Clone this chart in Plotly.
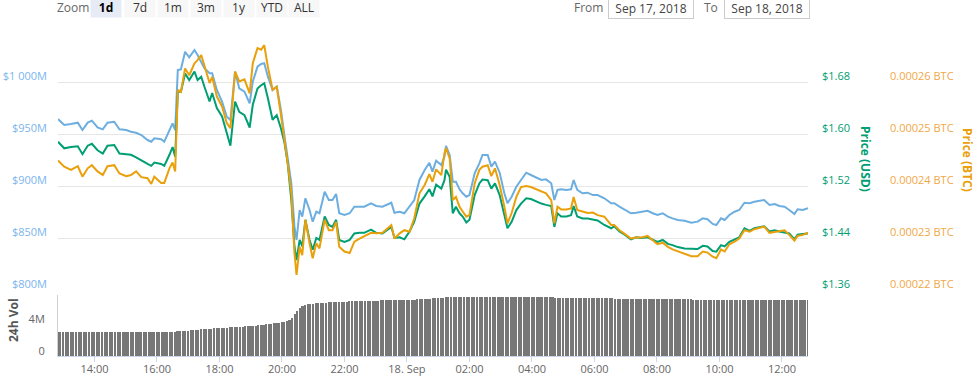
import plotly.graph_objects as go
import pandas as pd

# ---------------- data ----------------
times = [
"2018-09-17 12:50","2018-09-17 13:02","2018-09-17 13:15","2018-09-17 13:28","2018-09-17 13:37","2018-09-17 13:47","2018-09-17 13:55",
"2018-09-17 14:06","2018-09-17 14:16","2018-09-17 14:25","2018-09-17 14:38","2018-09-17 14:48","2018-09-17 15:01","2018-09-17 15:10",
"2018-09-17 15:20","2018-09-17 15:30","2018-09-17 15:42","2018-09-17 15:49","2018-09-17 15:55","2018-09-17 16:08","2018-09-17 16:14",
"2018-09-17 16:24","2018-09-17 16:30","2018-09-17 16:35","2018-09-17 16:40","2018-09-17 16:46","2018-09-17 16:54","2018-09-17 17:02",
"2018-09-17 17:12","2018-09-17 17:18","2018-09-17 17:25","2018-09-17 17:31","2018-09-17 17:41","2018-09-17 17:46","2018-09-17 17:55",
"2018-09-17 18:05","2018-09-17 18:14","2018-09-17 18:21","2018-09-17 18:30","2018-09-17 18:38","2018-09-17 18:48","2018-09-17 18:58",
"2018-09-17 19:04","2018-09-17 19:13","2018-09-17 19:20","2018-09-17 19:26","2018-09-17 19:33","2018-09-17 19:42","2018-09-17 19:50",
"2018-09-17 19:58","2018-09-17 20:05","2018-09-17 20:11","2018-09-17 20:18","2018-09-17 20:24","2018-09-17 20:28","2018-09-17 20:34",
"2018-09-17 20:39","2018-09-17 20:45","2018-09-17 20:53","2018-09-17 20:59","2018-09-17 21:06","2018-09-17 21:12","2018-09-17 21:22",
"2018-09-17 21:30","2018-09-17 21:37","2018-09-17 21:44","2018-09-17 21:50","2018-09-17 22:00","2018-09-17 22:10","2018-09-17 22:19",
"2018-09-17 22:29","2018-09-17 22:38","2018-09-17 22:51","2018-09-17 23:01","2018-09-17 23:13","2018-09-17 23:30","2018-09-17 23:36",
"2018-09-17 23:46","2018-09-17 23:55","2018-09-18 00:05","2018-09-18 00:14","2018-09-18 00:24","2018-09-18 00:34","2018-09-18 00:43",
"2018-09-18 00:49","2018-09-18 00:56","2018-09-18 01:06","2018-09-18 01:12","2018-09-18 01:15","2018-09-18 01:22","2018-09-18 01:28",
"2018-09-18 01:34","2018-09-18 01:41","2018-09-18 01:47","2018-09-18 01:54","2018-09-18 02:00","2018-09-18 02:10","2018-09-18 02:19",
"2018-09-18 02:25","2018-09-18 02:35","2018-09-18 02:42","2018-09-18 02:49","2018-09-18 02:58","2018-09-18 03:07","2018-09-18 03:13",
"2018-09-18 03:21","2018-09-18 03:30","2018-09-18 03:39","2018-09-18 03:49","2018-09-18 03:58","2018-09-18 04:08","2018-09-18 04:18",
"2018-09-18 04:27","2018-09-18 04:37","2018-09-18 04:43","2018-09-18 04:49","2018-09-18 04:56","2018-09-18 05:06","2018-09-18 05:15",
"2018-09-18 05:20","2018-09-18 05:27","2018-09-18 05:37","2018-09-18 05:47","2018-09-18 05:57","2018-09-18 06:06","2018-09-18 06:19",
"2018-09-18 06:32","2018-09-18 06:38","2018-09-18 06:48","2018-09-18 06:58","2018-09-18 07:10","2018-09-18 07:20","2018-09-18 07:30",
"2018-09-18 07:42","2018-09-18 07:52","2018-09-18 08:01","2018-09-18 08:11","2018-09-18 08:21","2018-09-18 08:30","2018-09-18 08:40",
"2018-09-18 08:53","2018-09-18 09:06","2018-09-18 09:18","2018-09-18 09:28","2018-09-18 09:37","2018-09-18 09:47","2018-09-18 09:54",
"2018-09-18 10:03","2018-09-18 10:10","2018-09-18 10:19","2018-09-18 10:29","2018-09-18 10:38","2018-09-18 10:48","2018-09-18 10:58",
"2018-09-18 11:07","2018-09-18 11:20","2018-09-18 11:26","2018-09-18 11:36","2018-09-18 11:46","2018-09-18 11:55","2018-09-18 12:05",
"2018-09-18 12:14","2018-09-18 12:24","2018-09-18 12:30","2018-09-18 12:40","2018-09-18 12:50",
]

market_cap_m = [
964.4,958.7,959.6,960.9,953.8,960.9,962.8,956.4,954.5,960.9,961.8,954.5,953.8,952.2,951.2,949.0,944.2,942.6,945.9,944.9,
942.6,954.5,960.3,953.8,1011.5,1012.2,1029.1,1023.8,1030.8,1026.0,1019.5,1013.2,1008.4,1008.4,992.3,981.1,966.6,963.5,1009.9,993.9,
990.7,979.5,1000.3,1014.7,1017.3,1018.0,1005.1,992.3,995.5,973.1,947.4,928.2,902.6,860.9,848.1,876.9,870.5,888.2,876.9,865.7,
875.3,873.8,894.5,886.5,886.5,892.3,873.8,872.1,873.8,880.1,880.1,880.1,883.4,880.8,880.1,883.9,874.3,875.3,873.8,880.1,
886.5,905.8,915.4,922.3,913.8,924.3,920.2,928.2,938.5,929.8,904.1,904.1,896.8,893.0,889.7,891.3,912.2,921.8,929.8,929.8,
918.6,923.4,912.8,893.0,883.4,889.7,899.3,905.8,912.8,910.6,908.4,905.8,906.4,902.6,886.5,896.2,896.8,896.2,896.8,905.8,
896.2,893.0,893.6,891.3,891.3,888.2,883.4,883.4,880.1,876.9,873.8,874.3,875.3,876.2,873.8,872.1,873.8,870.5,868.9,867.3,
866.6,864.7,865.7,868.9,868.0,863.5,862.5,868.9,867.3,872.1,875.3,876.9,883.9,883.4,884.9,885.9,886.5,881.7,882.7,880.8,
880.1,876.9,873.1,877.6,876.9,878.6,
]

price_usd = [
1.588,1.578,1.580,1.581,1.569,1.582,1.585,1.575,1.570,1.582,1.583,1.570,1.569,1.568,1.564,1.559,1.554,1.551,1.556,1.554,
1.551,1.568,1.580,1.565,1.665,1.665,1.693,1.683,1.696,1.683,1.688,1.673,1.650,1.663,1.640,1.627,1.601,1.582,1.650,1.634,
1.629,1.610,1.645,1.670,1.675,1.678,1.655,1.622,1.629,1.609,1.586,1.555,1.498,1.427,1.406,1.437,1.427,1.468,1.437,1.422,
1.440,1.437,1.473,1.460,1.457,1.468,1.437,1.434,1.437,1.447,1.448,1.448,1.453,1.448,1.447,1.457,1.440,1.441,1.438,1.450,
1.465,1.493,1.504,1.515,1.504,1.522,1.516,1.529,1.545,1.534,1.478,1.488,1.478,1.473,1.464,1.468,1.506,1.524,1.530,1.529,
1.516,1.524,1.506,1.473,1.455,1.465,1.483,1.493,1.501,1.500,1.496,1.493,1.491,1.489,1.457,1.478,1.473,1.473,1.475,1.489,
1.473,1.470,1.470,1.468,1.467,1.460,1.455,1.458,1.450,1.445,1.438,1.441,1.440,1.441,1.437,1.434,1.437,1.431,1.429,1.426,
1.424,1.423,1.423,1.428,1.427,1.420,1.419,1.429,1.427,1.434,1.438,1.441,1.455,1.451,1.455,1.457,1.458,1.450,1.452,1.450,
1.448,1.447,1.438,1.445,1.446,1.447,
]

price_btc = [
0.0002449,0.0002437,0.0002431,0.0002438,0.0002418,0.0002434,0.0002440,0.0002428,0.0002421,0.0002438,
0.0002440,0.0002424,0.0002419,0.0002421,0.0002428,0.0002417,0.0002415,0.0002404,0.0002418,0.0002406,
0.0002406,0.0002434,0.0002445,0.0002428,0.0002585,0.0002581,0.0002626,0.0002613,0.0002636,0.0002642,
0.0002652,0.0002633,0.0002598,0.0002610,0.0002572,0.0002553,0.0002521,0.0002511,0.0002620,0.0002601,
0.0002605,0.0002578,0.0002636,0.0002665,0.0002662,0.0002671,0.0002629,0.0002585,0.0002591,0.0002537,
0.0002488,0.0002444,0.0002386,0.0002271,0.0002229,0.0002283,0.0002267,0.0002335,0.0002290,0.0002261,
0.0002290,0.0002280,0.0002335,0.0002315,0.0002315,0.0002331,0.0002283,0.0002274,0.0002271,0.0002293,
0.0002299,0.0002303,0.0002310,0.0002309,0.0002310,0.0002325,0.0002299,0.0002309,0.0002315,0.0002312,
0.0002338,0.0002386,0.0002402,0.0002423,0.0002408,0.0002432,0.0002421,0.0002463,0.0002473,0.0002453,
0.0002373,0.0002379,0.0002360,0.0002351,0.0002341,0.0002344,0.0002405,0.0002431,0.0002437,0.0002440,
0.0002419,0.0002434,0.0002402,0.0002360,0.0002328,0.0002348,0.0002379,0.0002398,0.0002400,0.0002398,
0.0002394,0.0002389,0.0002386,0.0002373,0.0002328,0.0002360,0.0002355,0.0002355,0.0002357,0.0002379,
0.0002354,0.0002351,0.0002348,0.0002349,0.0002344,0.0002341,0.0002325,0.0002325,0.0002315,0.0002308,
0.0002299,0.0002301,0.0002301,0.0002304,0.0002295,0.0002288,0.0002291,0.0002283,0.0002278,0.0002274,
0.0002269,0.0002265,0.0002265,0.0002274,0.0002272,0.0002264,0.0002261,0.0002278,0.0002274,0.0002288,
0.0002293,0.0002299,0.0002315,0.0002312,0.0002317,0.0002321,0.0002322,0.0002310,0.0002312,0.0002314,
0.0002315,0.0002306,0.0002295,0.0002304,0.0002306,0.0002310,
]

# 24h volume (millions USD), one bar every 5 minutes from 12:50 to 12:50
volume_m = [
2.98,2.98,
2.98,2.98,2.99,2.98,2.98,2.98,2.99,2.98,2.98,2.98,2.99,2.98,
2.98,2.99,2.98,2.98,2.98,2.99,2.98,2.98,2.98,2.98,2.99,2.98,
2.97,2.97,2.98,2.97,2.97,2.97,2.97,2.98,2.97,2.97,2.96,2.96,
2.96,2.97,2.96,2.97,2.98,3.00,3.03,3.05,3.08,3.10,3.12,3.15,
3.18,3.22,3.25,3.28,3.30,3.32,3.35,3.37,3.40,3.42,3.44,3.46,
3.48,3.50,3.52,3.55,3.58,3.60,3.62,3.64,3.66,3.68,3.70,3.72,
3.74,3.77,3.80,3.84,3.88,3.92,3.96,4.00,4.04,4.08,4.12,4.16,
4.22,4.30,4.40,4.55,4.80,5.20,5.60,5.95,6.20,6.35,6.45,6.50,
6.55,6.60,6.62,6.65,6.67,6.68,6.70,6.72,6.73,6.75,6.76,6.78,
6.80,6.80,6.82,6.83,6.85,6.85,6.86,6.88,6.88,6.90,6.90,6.92,
6.92,6.93,6.95,6.95,6.96,6.97,6.98,6.98,7.00,7.00,7.01,7.02,
7.03,7.04,7.05,7.06,7.08,7.10,7.12,7.14,7.16,7.18,7.20,7.22,
7.24,7.27,7.30,7.33,7.36,7.38,7.40,7.40,7.41,7.42,7.42,7.42,
7.43,7.43,7.42,7.42,7.42,7.41,7.41,7.40,7.40,7.40,7.39,7.39,
7.38,7.38,7.38,7.37,7.37,7.37,7.36,7.36,7.36,7.35,7.35,7.35,
7.34,7.34,7.34,7.33,7.33,7.33,7.32,7.32,7.32,7.31,7.31,7.31,
7.30,7.30,7.30,7.29,7.29,7.29,7.28,7.28,7.28,7.27,7.27,7.27,
7.26,7.25,7.24,7.23,7.22,7.21,7.20,7.19,7.18,7.17,7.16,7.16,
7.15,7.15,7.14,7.14,7.13,7.13,7.12,7.12,7.12,7.11,7.11,7.11,
7.10,7.10,7.10,7.09,7.09,7.09,7.08,7.08,7.08,7.08,7.07,7.07,
7.07,7.07,7.06,7.06,7.06,7.06,7.05,7.05,7.05,7.05,7.05,7.04,
7.04,7.04,7.04,7.04,7.03,7.03,7.03,7.03,7.03,7.02,7.02,7.02,
7.02,7.02,7.01,7.01,7.01,7.01,7.00,7.00,7.00,7.00,6.99,6.99,
6.99,6.99,6.98,6.98,6.98,6.98,6.97,6.97,6.97,6.97,6.96,
]
volume_times = pd.date_range("2018-09-17 12:50", "2018-09-18 12:50", freq="5min")

mcap_ticks = [800, 850, 900, 950, 1000]
mcap_labels = ["$800M", "$850M", "$900M", "$950M", "$1 000M"]
usd_ticks = [1.36, 1.44, 1.52, 1.60, 1.68]
usd_labels = ["$1.36", "$1.44", "$1.52", "$1.60", "$1.68"]
btc_ticks = [0.00022, 0.00023, 0.00024, 0.00025, 0.00026]
btc_labels = ["0.00022 BTC", "0.00023 BTC", "0.00024 BTC", "0.00025 BTC", "0.00026 BTC"]
vol_ticks = [0, 4]
vol_labels = ["0", "4M"]
x_ticks = pd.date_range("2018-09-17 14:00", "2018-09-18 12:00", freq="2h")
x_labels = ["14:00", "16:00", "18:00", "20:00", "22:00", "18. Sep",
            "02:00", "04:00", "06:00", "08:00", "10:00", "12:00"]

# ---------------- style ----------------
C_MCAP = "#6daee0"
C_USD = "#009e73"
C_BTC = "#e9a00a"
FONT = "Open Sans"
W, H = 975, 383
ML, MR, MT, MB = 58, 0, 30, 27
PW = W - ML - MR
PH = H - MT - MB

def px(x):                   # page pixel x -> paper coordinate
    return (x - ML) / PW

def py(y):                   # page pixel y -> paper coordinate
    return (H - MB - y) / PH

fig = go.Figure()
fig.add_trace(go.Scatter(x=times, y=market_cap_m, mode="lines", yaxis="y",
                         line=dict(color=C_MCAP, width=2), name="Market Cap"))
fig.add_trace(go.Scatter(x=times, y=price_usd, mode="lines", yaxis="y2",
                         line=dict(color=C_USD, width=2), name="Price (USD)"))
fig.add_trace(go.Scatter(x=times, y=price_btc, mode="lines", yaxis="y3",
                         line=dict(color=C_BTC, width=2), name="Price (BTC)"))
fig.add_trace(go.Bar(x=volume_times, y=volume_m, yaxis="y4",
                     marker=dict(color="#777777", line=dict(width=0)),
                     width=5 * 60 * 1000 * 0.62, name="24h Vol"))

xend = px(808)
main_dom = [py(290), 1.0]
vol_dom = [0.0, py(295)]

fig.update_layout(
    width=W, height=H,
    margin=dict(l=ML, r=MR, t=MT, b=MB),
    paper_bgcolor="white", plot_bgcolor="white",
    showlegend=False, hovermode=False,
    font=dict(family=FONT, size=11, color="#666666"),
    xaxis=dict(domain=[0, xend], anchor="y4", type="date",
               range=[times[0], times[-1]],
               tickvals=list(x_ticks), ticktext=x_labels,
               tickfont=dict(size=11, color="#666666"),
               ticks="outside", ticklen=5, tickcolor="#ccd6eb",
               ticklabelstandoff=-2,
               showline=True, linecolor="#ccd6eb", showgrid=False, zeroline=False),
    yaxis=dict(domain=main_dom, range=[800, 1050], anchor="x",
               tickvals=mcap_ticks, ticktext=mcap_labels,
               tickfont=dict(size=11, color="#7cb5ec"),
               showgrid=True, gridcolor="#e6e6e6", gridwidth=1,
               zeroline=False, showline=False, ticks="",
               ticklabelstandoff=10, ticklabelshift=-6),
    yaxis2=dict(domain=main_dom, range=[1.36, 1.76], overlaying="y", side="right",
                anchor="free", position=px(818),
                tickvals=usd_ticks, ticktext=usd_labels,
                tickfont=dict(size=11, color=C_USD),
                showgrid=False, zeroline=False, showline=False, ticks="",
                ticklabelstandoff=3, ticklabelshift=-6),
    yaxis3=dict(domain=main_dom, range=[0.00022, 0.00027], overlaying="y", side="right",
                anchor="free", position=px(886),
                tickvals=btc_ticks, ticktext=btc_labels,
                tickfont=dict(size=11, color="#f0a848"),
                showgrid=False, zeroline=False, showline=False, ticks="",
                ticklabelstandoff=3, ticklabelshift=-6),
    yaxis4=dict(domain=vol_dom, range=[0, 7.625], anchor="x",
                tickvals=vol_ticks, ticktext=vol_labels,
                tickfont=dict(size=11, color="#666666"),
                showgrid=False, zeroline=False,
                showline=True, linecolor="#d0d0d0", ticks="",
                ticklabelstandoff=10, ticklabelshift=-5),
    bargap=0,
)

ann = []
# axis titles
ann.append(dict(text="<b>Price (USD)</b>", x=px(866), y=py(159), textangle=90,
                font=dict(size=12, color=C_USD)))
ann.append(dict(text="<b>Price (BTC)</b>", x=px(968), y=py(160), textangle=90,
                font=dict(size=12, color=C_BTC)))
ann.append(dict(text="<b>24h Vol</b>", x=px(13), y=py(320), textangle=-90,
                font=dict(size=12, color="#555555")))
# range selector
ann.append(dict(text="Zoom", x=px(73), y=py(8), font=dict(size=12, color="#666666")))
buttons = [("1d", 106), ("7d", 140), ("1m", 173), ("3m", 206), ("1y", 239), ("YTD", 272), ("ALL", 304)]
for label, cx in buttons:
    sel = label == "1d"
    ann.append(dict(text=("<b>%s</b>" % label) if sel else label, x=px(cx), y=py(8),
                    width=28, height=17, bgcolor="#e6ebf5" if sel else "#f7f7f7",
                    font=dict(size=12, color="#000000" if sel else "#333333")))
# date inputs
ann.append(dict(text="From", x=px(588), y=py(8), font=dict(size=12, color="#666666")))
ann.append(dict(text="Sep 17, 2018", x=px(651), y=py(8), width=82, height=18,
                bordercolor="#cccccc", borderwidth=1, bgcolor="white",
                font=dict(size=12, color="#444444")))
ann.append(dict(text="To", x=px(711), y=py(8), font=dict(size=12, color="#666666")))
ann.append(dict(text="Sep 18, 2018", x=px(767), y=py(8), width=82, height=18,
                bordercolor="#cccccc", borderwidth=1, bgcolor="white",
                font=dict(size=12, color="#444444")))
for a in ann:
    a.update(xref="paper", yref="paper", showarrow=False, xanchor="center", yanchor="middle")
fig.update_layout(annotations=ann)

fig.write_html("out.html",
               config={"displayModeBar": False},
               post_script="document.body.style.margin='0px';document.body.style.overflow='hidden';")
